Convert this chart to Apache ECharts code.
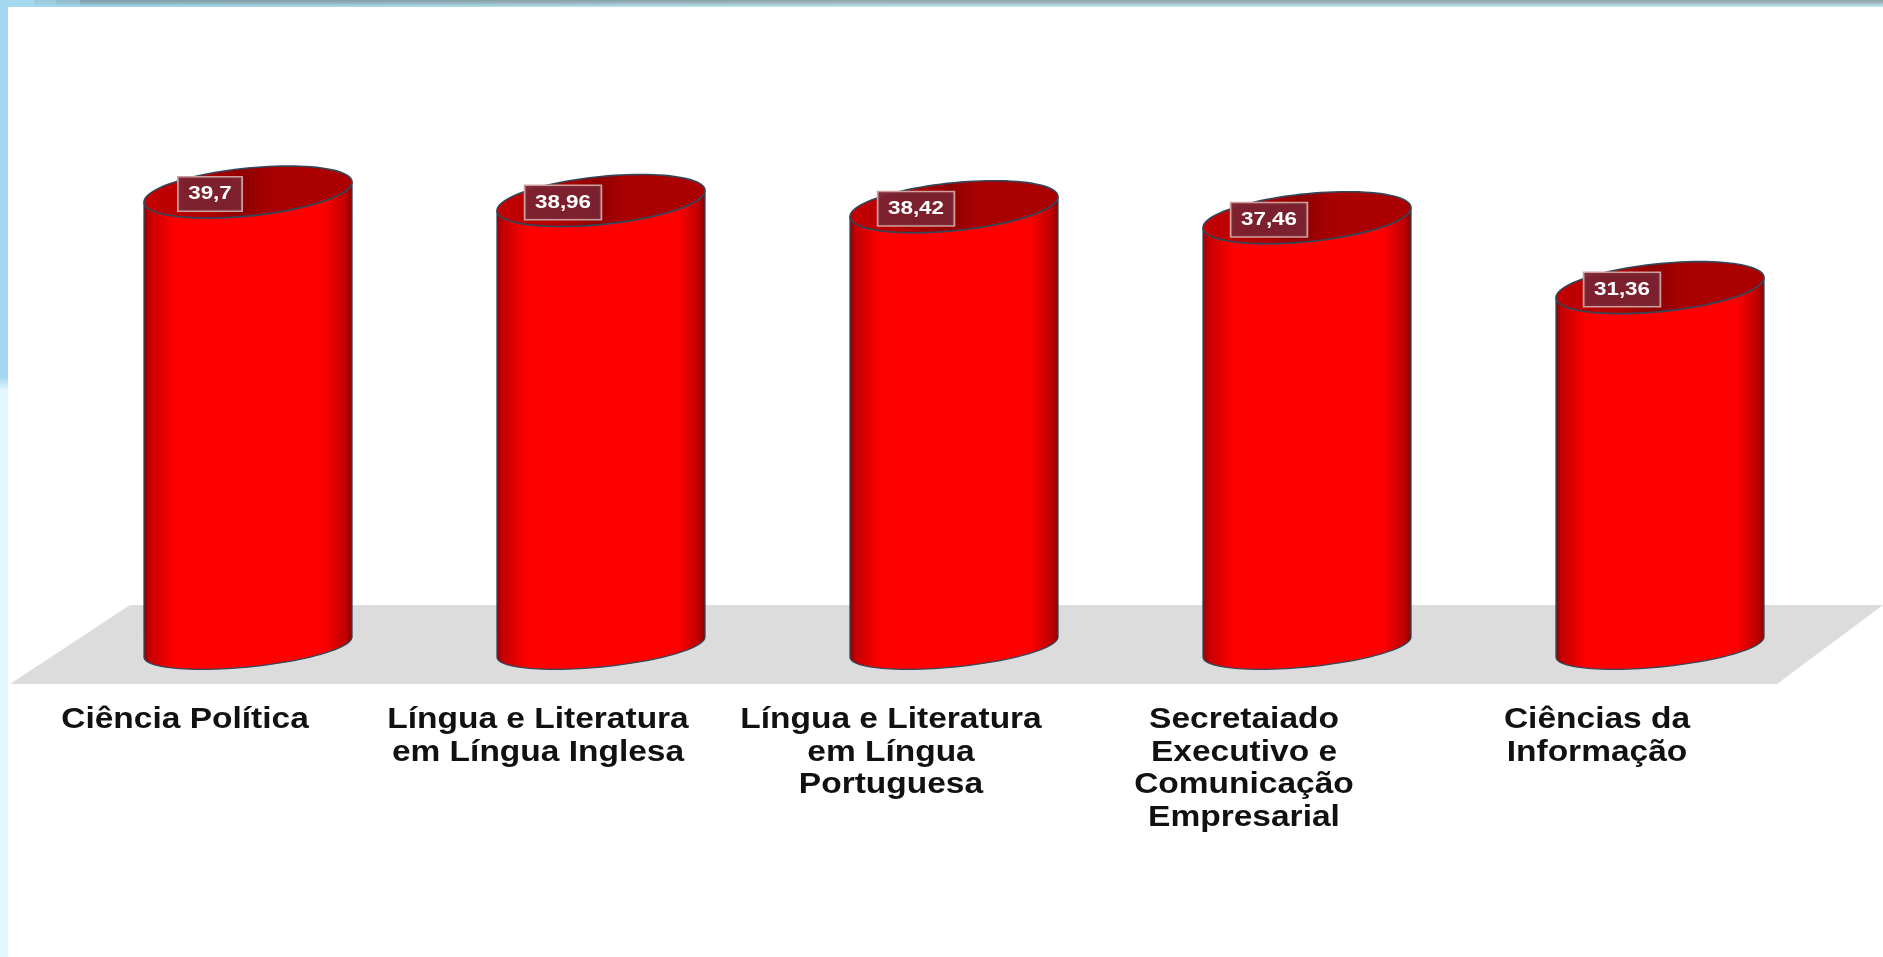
<!DOCTYPE html>
<html><head><meta charset="utf-8">
<style>html,body{margin:0;padding:0;background:#fff;overflow:hidden}#c{width:1883px;height:957px}</style>
<script src="https://cdn.jsdelivr.net/npm/echarts@6/dist/echarts.min.js"></script>
</head><body><div id="c"></div>
<script>
var categories = ['Ciência Política','Língua e Literatura\nem Língua Inglesa','Língua e Literatura\nem Língua\nPortuguesa','Secretaiado\nExecutivo e\nComunicação\nEmpresarial','Ciências da\nInformação'];
var values = [39.7,38.96,38.42,37.46,31.36];
var labels = ['39,7','38,96','38,42','37,46','31,36'];

var chart = echarts.init(document.getElementById('c'));
var RX = 104, SKEW = 10, TOPB = 24, BOTB = 20, LABEL_DX = -38, CAT_DX = -63;

function arc(cx, cy, b, t0, t1, n) {
  var pts = [];
  for (var i = 0; i <= n; i++) {
    var t = t0 + (t1 - t0) * i / n;
    pts.push([cx + RX * Math.cos(t), cy - SKEW * Math.cos(t) + b * Math.sin(t)]);
  }
  return pts;
}
function renderBar(params, api) {
  var idx = api.value(0);
  var top = api.coord([idx, api.value(1)]);
  var base = api.coord([idx, 0]);
  var cx = top[0];
  var front = arc(cx, top[1], TOPB, Math.PI, 0, 48);
  var body = front.concat(arc(cx, base[1], BOTB, 0, Math.PI, 48));
  var topEllipse = arc(cx, top[1], TOPB, 0, Math.PI * 2, 96);
  var bodyFill = new echarts.graphic.LinearGradient(0, 0, 1, 0, [
    {offset: 0, color: '#8c0000'}, {offset: 0.03, color: '#c40000'}, {offset: 0.14, color: '#fb0000'},
    {offset: 0.2, color: '#ff0000'}, {offset: 0.8, color: '#ff0000'}, {offset: 0.87, color: '#fb0000'},
    {offset: 0.97, color: '#bc0000'}, {offset: 1, color: '#7c0000'}
  ]);
  var capFill = new echarts.graphic.LinearGradient(0, 0, 1, 0, [
    {offset: 0, color: '#c40000'}, {offset: 0.3, color: '#b00000'}, {offset: 0.48, color: '#8e0000'},
    {offset: 0.6, color: '#a80000'}, {offset: 1, color: '#ac0000'}
  ]);
  var line = '#34465a';
  return {type: 'group', children: [
    {type: 'polygon', shape: {points: body}, style: {fill: bodyFill, stroke: line, lineWidth: 1.3}},
    {type: 'polygon', shape: {points: topEllipse}, style: {fill: capFill, stroke: line, lineWidth: 1.6}},
    {type: 'text', z2: 10, x: cx + LABEL_DX, y: top[1] + 2, scaleX: 1.18, style: {
      x: 0, y: 0, text: labels[idx], align: 'center', verticalAlign: 'middle',
      fill: '#fff', font: 'bold 19px "Liberation Sans"',
      backgroundColor: 'rgba(122,34,48,0.95)', borderColor: '#cf9f9f', borderWidth: 1.5, padding: [7, 8, 7, 8]
    }}
  ]};
}
function renderCategory(params, api) {
  var idx = api.value(0);
  var p = api.coord([idx, 0]);
  return {type: 'text', x: p[0] + CAT_DX, y: p[1] + 57, scaleX: 1.155, style: {
    x: 0, y: 0, text: categories[idx], align: 'center', verticalAlign: 'top',
    fill: '#111', font: 'bold 29px "Liberation Sans"', lineHeight: 32.5
  }};
}
function renderFloor(params, api) {
  var y0 = api.coord([0, 0])[1];
  return {type: 'polygon', shape: {points: [
    [130, y0 - 42], [1883, y0 - 42], [1777, y0 + 37], [10, y0 + 37]
  ]}, style: {fill: '#dcdcdc'}};
}
function topShade(x, w, a) {
  return {type: 'rect', z: -9, shape: {x: x, y: 0, width: w, height: 7}, style: {
    fill: new echarts.graphic.LinearGradient(0, 0, 0, 1, [
      {offset: 0, color: 'rgba(95,105,110,' + a + ')'}, {offset: 0.3, color: 'rgba(95,105,110,' + a * 0.8 + ')'},
      {offset: 1, color: 'rgba(95,105,110,0)'}
    ])}};
}
var option = {
  backgroundColor: '#ffffff',
  animation: false,
  graphic: [
    {type: 'rect', z: -10, shape: {x: 0, y: 0, width: 8, height: 957}, style: {
      fill: new echarts.graphic.LinearGradient(0, 0, 0, 1, [
        {offset: 0, color: '#a4d8f0'}, {offset: 0.394, color: '#a4d8f0'},
        {offset: 0.408, color: '#e2f7fe'}, {offset: 1, color: '#e2f8ff'}
      ])}},
    {type: 'rect', z: -10, shape: {x: 0, y: 0, width: 1883, height: 7}, style: {
      fill: new echarts.graphic.LinearGradient(0, 0, 1, 0, [
        {offset: 0, color: '#a4d8f0'}, {offset: 0.1, color: '#a8dcee'},
        {offset: 0.5, color: '#c8ecf2'}, {offset: 1, color: '#c8ecf2'}
      ])}},
    topShade(34, 22, 0.15), topShade(56, 24, 0.3), topShade(80, 1803, 0.55)
  ],
  grid: {left: 71.5, width: 1765, top: 74, height: 573},
  xAxis: {type: 'category', data: categories, axisLine: {show: false}, axisTick: {show: false}, axisLabel: {show: false}},
  yAxis: {type: 'value', min: 0, max: 50, show: false, splitLine: {show: false}},
  series: [
    {type: 'custom', z: 1, silent: true, renderItem: renderFloor, data: [[0, 0]], encode: {x: 0, y: 1}},
    {type: 'custom', z: 2, renderItem: renderBar, data: values.map(function (v, i) { return [i, v]; }), encode: {x: 0, y: 1}},
    {type: 'custom', z: 3, silent: true, renderItem: renderCategory, data: categories.map(function (c, i) { return [i, 0]; }), encode: {x: 0, y: 1}}
  ]
};
chart.setOption(option);
</script></body></html>
